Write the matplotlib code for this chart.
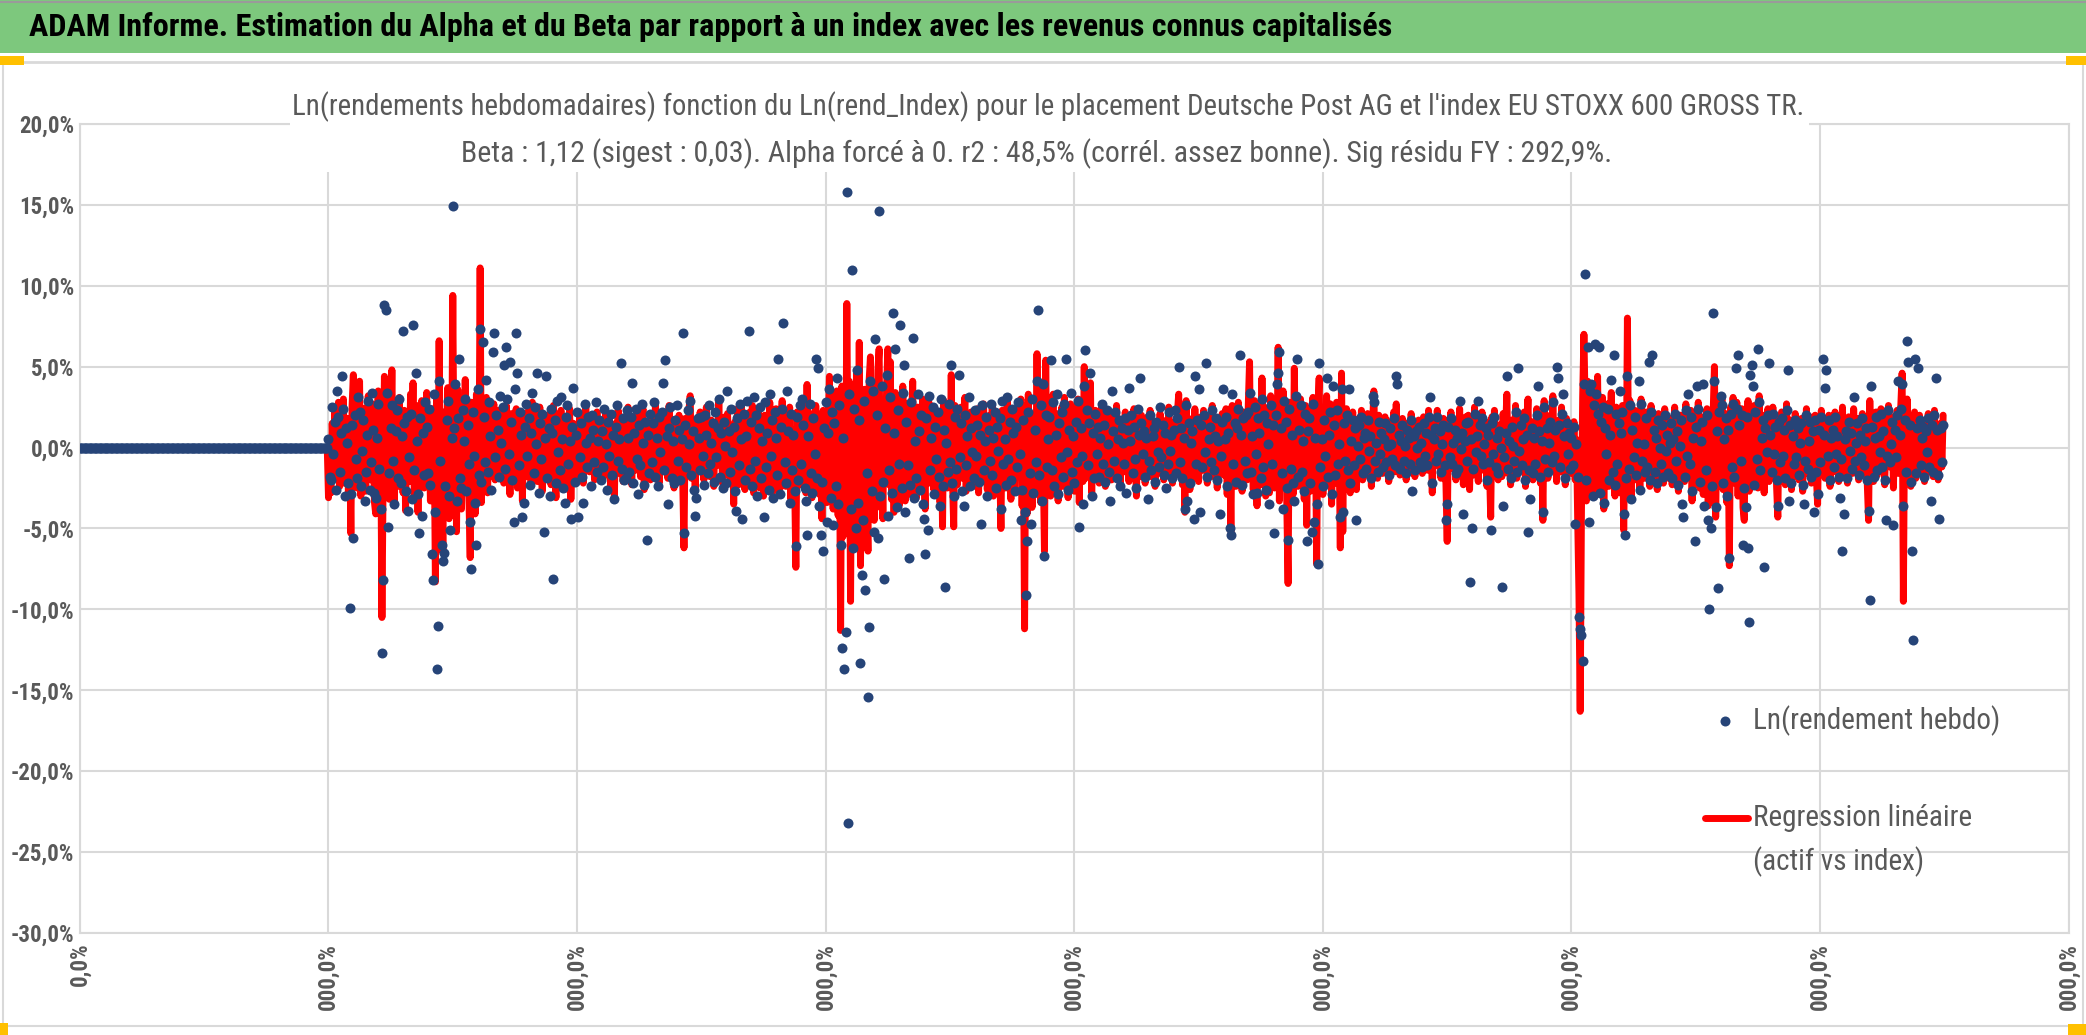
import numpy as np
import matplotlib
matplotlib.use("Agg")
import matplotlib.pyplot as plt
from matplotlib import font_manager
from matplotlib.patches import Rectangle
from matplotlib.lines import Line2D
from matplotlib.ticker import FuncFormatter

installed = {f.name for f in font_manager.fontManager.ttflist}
narrow = next((n for n in ['Liberation Sans Narrow', 'Roboto Condensed',
                           'Open Sans Condensed', 'DejaVu Sans Condensed']
               if n in installed), 'DejaVu Sans')
plt.rcParams['font.family'] = [narrow, 'DejaVu Sans']
plt.rcParams['font.stretch'] = 'condensed'

# weekly log returns in %, weeks 0..199 are empty (0), data starts at week 200
n_flat = 200

# regression line (beta x index), weeks 200..1499
regression = [
    -3.1, -1.2, -2.8, 1.5, -0.8, 2.2, -1.9, 0.6, 2.8, -2.4, 1.1, -0.5, 3.0, -2.2, 0.9, 1.8, -2.9, 0.4, -5.3, 2.6,
    4.5, -1.6, 0.8, -2.5, 1.9, 4.1, -3.0, 0.2, 2.4, -1.1, -2.7, 1.6, 3.2, -0.9, -2.0, 2.7, 0.5, -3.4, -4.1, 1.3,
    3.5, -2.2, 0.7, -10.5, -1.5, 4.4, -2.6, 1.2, 2.9, -3.2, 0.3, 4.8, -1.8, -3.6, 2.0, 0.6, -2.4, 3.1, -0.7, 1.7,
    -2.8, 2.3, -3.9, 0.9, 1.4, -2.1, 3.3, -1.0, 4.0, -3.0, 0.4, 2.6, -4.0, 1.1, -1.7, 2.9, -0.3, -2.5, 1.8, 3.4,
    -2.0, 0.7, -3.3, 2.4, -1.4, 1.0, -8.3, 3.0, -4.6, 6.6, -2.7, 1.5, -6.5, 2.2, -3.6, 0.8, 3.7, -4.4, 1.9, -2.3,
    9.4, -1.8, 2.1, -5.2, 3.6, -0.6, 2.7, -3.8, 1.3, -2.2, 4.2, -1.1, 0.5, -3.1, -6.8, 2.8, 1.0, -2.6, -4.1, 3.3,
    1.6, -2.4, 11.1, -3.4, 2.5, 0.9, -1.9, 3.1, -2.8, 1.4, 2.0, -1.3, 0.6, 2.7, -2.0, 1.2, -0.4, 2.3, -1.6, 0.9,
    1.8, -2.2, 0.4, 2.6, -1.5, 1.1, -2.9, 2.1, 0.3, -1.7, 1.5, 2.4, -2.5, 0.8, -0.9, 1.9, -3.3, 1.3, 0.6, -1.8,
    2.2, -0.7, 1.0, -2.4, 2.8, 0.2, -1.3, 1.7, -2.1, 0.9, 2.5, -1.0, -2.7, 1.4, 0.5, -1.6, 2.0, -0.8, 1.2, -2.3,
    0.7, 2.6, -1.4, -3.1, 1.8, 0.4, -2.0, 2.3, -0.5, 1.1, -2.6, 1.6, 0.8, -1.2, 2.4, -3.2, 0.9, 1.5, -1.9, 0.3,
    1.3, -1.7, 2.0, -0.6, 1.1, -2.2, 0.5, 2.6, -1.0, 0.8, -1.5, 1.9, -0.3, 1.4, -2.0, 0.6, 2.2, -1.2, 0.9, -0.7,
    1.6, -1.9, 0.4, 2.1, -1.3, 0.7, 1.8, -2.4, 0.2, 1.0, -3.1, 1.5, -0.8, 2.3, -1.6, 0.5, 1.2, -2.1, 1.9, -0.4,
    0.9, 2.5, -1.1, 0.3, -2.3, 1.7, 0.6, -1.4, 2.0, -0.9, 1.3, -1.8, 0.8, 2.4, -2.6, 0.4, 1.1, -1.0, 1.6, -2.0,
    0.7, 1.9, -1.5, 2.7, -0.6, 1.0, -2.2, 0.5, 1.4, -1.2, 2.1, -0.4, 0.9, -1.9, 2.6, 0.2, -1.3, 1.7, -2.5, 1.2,
    0.6, -1.6, 2.0, -0.8, 1.5, -2.1, -6.2, 1.8, 0.3, -1.4, 2.3, 3.2, -1.9, 0.8, 1.1, -2.7, 0.4, 1.6, -1.0, 2.2,
    -0.5, 1.3, -2.0, 0.9, 2.5, -1.3, 0.6, -1.8, 1.7, 0.2, -2.4, 1.4, 0.8, -1.1, 2.8, -0.7, 1.0, -2.2, 0.5, 1.9,
    -1.5, 2.1, 0.3, -1.9, 1.2, 0.7, -3.5, 1.6, -0.4, 2.4, -2.3, 1.1, 2.7, -1.8, 0.5, -2.6, 1.9, 0.8, -2.0, 2.2,
    -1.2, 2.6, -2.8, 0.6, 1.8, -1.5, 2.3, -2.5, 0.9, 1.4, -3.0, 2.0, -0.7, 1.3, -2.2, 2.8, -1.1, 0.4, -2.7, 1.7,
    2.4, -1.9, 0.8, -2.6, 1.5, 2.9, -1.3, 0.2, -2.4, 1.9, -0.8, 2.5, -3.2, 1.1, 0.6, -2.0, -7.4, 2.2, -1.7, 1.0,
    -2.3, 1.6, 2.7, -0.9, -2.8, 3.9, -1.4, 0.7, 2.1, -3.1, 1.3, -1.8, 2.6, -0.5, 1.8, -2.9, 0.9, -4.4, 2.3, -1.6,
    2.0, -3.4, 1.2, 4.4, -2.5, 0.8, -3.8, 2.9, -1.6, 3.5, -4.2, 1.7, -11.3, 3.8, -5.5, 2.4, -3.9, 8.9, -2.1, 4.1,
    -9.5, 3.2, -4.8, 1.5, -3.0, 4.6, -6.0, 6.5, -7.3, 2.7, -4.1, 3.6, 0.9, -2.8, -6.4, 4.2, 5.6, -3.5, 1.8, -4.5,
    3.9, -2.6, 4.8, 6.1, -3.7, 1.4, -4.4, 2.9, -1.5, 3.7, 6.1, -2.3, 5.3, -3.2, 1.0, -4.0, 3.4, -1.8, 2.6, -3.6,
    1.9, -2.4, 3.8, 0.6, -3.3, 2.7, -1.2, 2.2, -2.9, 1.4, 4.1, -2.0, 0.8, -3.1, 2.5, -0.9, 1.7, -2.7, 3.0, -1.5,
    -3.8, 2.3, -1.0, 2.8, -2.2, 0.7, 1.9, -2.6, 2.4, -1.3, 0.5, 2.1, -3.4, 1.6, -4.9, 2.9, -1.1, 0.9, -2.5, 1.8,
    -1.6, 4.5, -2.0, -4.9, 2.6, 0.4, -2.3, 1.7, -0.8, 2.5, -1.9, 1.2, 3.1, -2.7, 0.6, 1.8, -1.4, 2.2, -0.6, -2.4,
    1.5, -1.0, 2.4, -2.8, 0.9, 1.6, -2.1, 2.7, -0.5, 1.3, -2.6, 0.8, 2.0, -1.5, 2.6, -3.0, 1.1, 0.4, -2.2, 1.9,
    -1.2, -5.0, 2.3, -0.7, 1.8, -2.5, 2.9, -1.8, 0.6, -3.2, 2.1, 1.0, -2.7, 1.5, -1.6, 2.4, 0.5, 3.0, -3.6, 1.2,
    -11.2, 2.6, -4.1, 3.3, -2.4, 1.7, -3.7, 2.0, 0.8, -2.9, 5.8, -1.5, 2.4, -3.4, 3.6, -0.9, -6.4, 5.4, -2.3, 1.6,
    2.8, -3.0, 1.2, 3.3, -2.6, 0.7, 2.1, -3.3, 1.5, -1.1, 2.5, -2.4, 3.1, -0.8, 1.9, -3.1, 0.6, 2.7, -1.8, 1.0,
    -2.7, 2.2, -1.4, 3.0, -3.4, 1.3, 0.5, -2.1, 5.0, -1.9, 2.6, -0.7, 1.8, 4.0, -2.8, 1.1, -1.6, 2.3, -0.4, 1.7,
    -2.2, 1.0, 2.5, -1.7, 0.6, -2.4, 1.9, 0.3, -1.3, 2.1, -2.0, 1.4, 0.8, -1.9, 2.6, -0.6, 1.2, -2.3, 1.7, 0.4,
    -1.5, 2.2, -0.9, 1.3, -2.1, 0.7, 1.8, -1.2, 2.4, -0.5, -3.0, 1.6, 0.9, -1.8, 2.0, -0.3, 1.4, -2.2, 0.6, 1.9,
    -1.1, 2.3, -1.8, 0.5, 1.5, -2.4, 1.0, 0.2, -1.6, 2.1, -0.8, 1.7, -2.0, 0.9, 1.3, -1.4, 2.5, -0.6, 1.1, -2.2,
    0.8, 1.6, -1.3, 2.2, 3.3, -0.7, 1.4, -2.3, 0.5, -4.0, 2.9, -1.0, 1.8, -2.6, 0.4, 1.2, -1.9, 2.4, -0.8, 1.5,
    -2.1, 0.6, 1.9, -1.4, 2.3, -0.5, 1.0, -2.2, 0.7, 1.7, -1.1, 2.6, -1.8, 0.3, 1.4, -2.5, 0.9, 1.8, -0.6, 2.1,
    -1.7, 0.8, 2.4, -2.9, 1.2, 0.5, -5.2, 2.6, -1.3, 1.9, -2.4, 0.7, 2.8, -1.6, 1.1, -2.7, 2.2, -0.4, 1.5, -2.0,
    2.7, 5.3, -1.8, 1.0, -2.6, 2.9, -0.7, -3.6, 2.1, 0.4, -2.3, 4.3, -1.5, 2.5, -3.0, 1.3, 0.6, -2.8, 3.2, -1.2,
    1.8, -2.5, 2.4, -1.0, 6.2, -3.3, 1.6, -2.1, 3.5, -0.8, 2.0, -3.7, -8.4, 2.8, -1.7, 1.2, -2.9, 4.9, -0.6, 2.3,
    -2.4, 1.5, 3.0, -1.9, 0.7, -3.2, 2.6, -4.8, 1.4, 2.2, -2.7, 0.9, 3.1, -2.0, 1.0, -7.2, 2.5, 4.3, -1.6, 0.8,
    -2.9, 2.1, -0.8, 3.2, -2.3, 1.1, 2.7, -3.5, 0.6, 1.9, -2.2, 2.8, -1.4, 0.5, -6.2, 4.6, -5.2, 2.0, -1.1, 2.4,
    -1.8, 1.3, -2.8, 0.7, 2.2, -1.5, 1.6, -2.6, 0.4, 1.8, -1.0, 2.3, -2.0, 0.9, 1.2, -1.7, 2.1, -0.5, 1.0, -2.4,
    1.4, 3.5, -1.2, 0.6, -1.9, 2.0, -0.7, 1.3, -1.6, 0.8, 1.9, -1.3, 0.3, -2.1, 1.6, 0.5, -1.0, 2.2, -1.5, 2.7,
    -0.9, 1.2, -1.7, 0.7, 1.8, -1.1, 0.4, -2.0, 1.5, 0.9, -1.3, 2.1, -0.6, 1.0, -1.8, 1.4, -0.3, 1.7, -1.2, 0.6,
    -1.6, 1.9, -0.8, 1.3, -1.4, 2.3, -0.5, 1.1, -2.8, 0.8, 1.6, -1.1, 2.3, -0.7, 1.4, -1.9, 0.5, 1.8, -1.5, -2.2,
    -5.8, 1.7, -0.9, 2.2, -1.3, 0.6, 1.5, -2.0, 0.9, -1.6, 2.4, -0.4, 1.2, -2.3, 0.7, 1.9, -1.1, 2.0, -2.6, 0.8,
    1.3, -1.7, 2.5, -0.6, 1.0, -2.1, 1.8, -0.8, 2.2, -1.4, 0.5, 1.6, -2.4, 1.1, -1.2, -4.3, 1.9, -0.7, 2.3, -1.5,
    0.9, -2.0, 1.4, 0.3, -1.8, 2.1, -0.9, 1.2, 3.3, -1.6, 0.7, -2.3, 1.7, 0.4, -1.1, 2.6, -1.9, 1.0, -0.5, 1.8,
    -1.4, 0.8, 2.2, -2.4, 1.1, 3.0, -1.7, 0.5, 1.6, -2.0, 0.9, -1.3, 2.4, -0.6, 1.3, -2.2, 0.7, -4.5, 2.9, -1.0,
    1.5, -1.9, 0.6, 2.0, -1.2, 3.2, -0.8, 1.4, -2.1, 0.9, 1.7, -1.5, 2.5, -0.4, 1.0, -2.3, 1.8, -0.7, 1.2, -1.6,
    0.9, -1.4, 1.6, -2.0, 0.5, -4.5, -9.0, -16.3, -4.0, 3.1, 7.0, 2.5, -3.3, 4.1, -2.5, 2.9, -1.7, -3.0, 3.6, -2.2,
    1.8, 4.4, -2.6, 2.0, -1.2, 3.1, -3.8, 1.5, -0.6, 2.7, -2.4, 1.1, 3.4, -1.8, 0.7, -3.0, 2.5, -1.4, 1.9, -2.8,
    1.2, 2.6, -5.1, 0.8, -2.3, 8.0, -1.6, 2.9, -3.2, 1.4, -0.9, 2.3, -2.0, 0.6, 1.8, -2.7, 3.0, -1.1, 0.5, -1.9,
    2.2, -1.5, 1.0, -2.4, 2.6, -0.7, 1.4, -1.8, 0.9, -2.6, 2.1, 0.3, -1.3, 1.7, -2.2, 2.4, -0.5, 1.1, -1.9, 0.6,
    1.8, -2.3, 0.8, 2.5, -1.1, 1.3, -2.7, 0.4, 2.0, -1.6, 1.2, -2.1, 2.7, -0.8, 1.5, -1.3, 2.3, -3.3, 0.9, -2.0,
    1.6, -1.2, 2.8, -2.5, 0.7, 1.9, -2.9, 1.1, -1.7, 2.4, -3.6, 0.9, 1.5, -2.8, 2.2, 5.0, -4.3, 1.3, -2.4, 2.6,
    -1.9, 3.0, -2.6, 0.8, 2.1, -3.4, 1.4, -7.3, 2.5, -1.5, 3.1, -2.2, 0.6, 2.8, -3.0, 1.7, -1.1, 2.4, -3.7, -4.5,
    2.3, -1.4, 2.9, -2.7, 1.2, 0.5, -2.3, 2.6, -1.0, 1.8, -2.5, 3.2, -1.7, 0.9, 2.0, -2.8, 1.5, -0.6, 2.4, -2.1,
    1.1, -1.8, 2.5, -0.7, 1.6, -2.4, -4.3, 1.9, -1.2, 2.2, -0.8, 1.4, -2.3, 2.7, -1.5, 0.8, 1.7, -2.6, 1.0, -1.3,
    2.1, -0.9, 1.5, -2.0, 0.6, 1.8, -2.7, 1.2, -1.1, 2.4, -1.6, 0.7, 1.9, -2.2, 1.3, -0.5, 2.0, -1.8, -3.5, 1.4,
    -1.2, 2.3, -0.6, 1.1, -1.9, 1.7, -0.8, 2.0, -2.4, 0.9, 1.4, -1.5, 2.2, -0.7, 1.0, -2.1, 1.6, -1.0, 2.5, -1.7,
    0.8, 1.3, -2.2, 1.9, -0.5, 1.2, -1.6, 2.4, -1.1, 0.6, 1.8, -2.0, 1.1, -0.9, 2.1, -1.4, 0.7, 1.5, -2.3, -4.5,
    2.9, -1.3, 1.6, -2.1, 0.9, 2.2, -1.7, 1.0, -0.6, 2.4, -1.5, 1.3, -2.3, 1.8, -0.8, 2.6, -1.2, 0.5, 1.9, -2.5,
    1.4, -0.9, 2.3, -1.6, 1.1, 2.7, 4.6, -9.5, 2.0, -1.8, 3.0, -1.0, 1.7, -2.4, 1.2, -0.7, 2.2, -1.9, 1.5, -1.1,
    2.0, -1.4, 0.9, 1.6, -2.1, 1.3, -0.6, 2.1, -1.5, 1.0, 1.7, -1.8, 2.3, -1.0, 1.4, -2.0, 0.8, 1.5, -1.2, 2.0,
]

# Ln(rendement hebdo) of the stock, weeks 200..1499
weekly = [
    0.5, -1.8, -2.0, 2.5, -0.4, 1.6, -2.6, 3.5, 1.9, -1.5, 0.9, 4.4, 2.4, -3.0, 1.2, 0.3, -2.2, -9.9, -2.9, 1.4,
    -5.6, 2.0, -0.7, -1.9, 3.1, 2.2, -2.4, -0.2, 1.7, -3.3, -1.5, 0.8, 2.9, -2.6, -0.9, 3.4, 1.1, -2.8, -3.1, 0.6,
    2.7, -1.3, -3.8, -12.7, -8.2, 8.8, 8.5, 3.4, -4.9, -1.6, 1.2, 2.6, -0.8, -3.5, 1.0, 2.3, -1.9, 3.0, -2.2, 0.7,
    7.2, 1.5, -2.7, 1.9, -3.9, -0.6, 2.1, -3.2, 7.6, -1.4, 4.6, 0.4, -2.9, -5.3, 1.8, -4.2, 0.9, -1.7, 2.8, 1.3,
    -1.6, 2.4, -2.3, -6.6, -8.2, 3.3, -4.0, -13.7, -11.0, 4.1, -0.8, -6.0, -7.0, -6.5, -2.4, 1.7, 2.9, -3.0, -5.1, 0.6,
    14.9, 1.2, 3.9, -3.3, 1.8, 5.5, -1.9, -2.5, 2.3, 0.4, 3.0, -2.7, 1.4, -1.0, -4.6, -7.5, 2.2, -0.5, -3.4, -6.0,
    3.6, -1.7, 7.3, -2.1, 6.5, 1.9, -0.9, 4.2, -1.5, 2.8, 0.7, -2.6, 5.9, 7.1, -0.6, 2.0, 1.1, -1.8, 3.2, 0.3,
    2.5, 5.1, -1.3, 6.2, 3.0, -0.4, 5.3, 1.6, -2.0, -4.6, 3.6, 7.1, 4.6, -1.1, 2.2, 0.8, -4.3, -3.4, 1.3, 2.7,
    -0.5, 1.8, -2.3, 0.9, 3.4, -1.6, 2.5, 0.2, 4.6, -2.8, 1.5, -0.7, 2.1, -5.2, 0.6, 4.4, -1.9, 1.2, -3.0, 2.4,
    0.9, -8.1, 1.7, -2.2, 2.9, -0.3, -1.4, 3.1, 0.5, -2.5, -3.4, 1.9, 2.6, -1.0, 0.4, -4.4, 1.3, 3.7, -2.1, 0.8,
    2.2, -4.3, -0.6, 1.5, -1.8, -3.4, 2.7, 0.3, -1.2, 1.9, 0.6, -2.4, 2.0, 1.1, -0.9, 2.8, -1.5, 0.4, 1.7, -2.0,
    1.0, -1.2, 2.4, 0.2, -2.6, 1.6, -0.5, 2.1, -1.7, 0.8, -3.2, 1.3, 2.6, -0.8, 0.5, 5.2, -1.3, 1.8, -2.0, -1.9,
    2.3, 0.6, -1.5, 1.9, 4.0, -2.2, 0.9, 2.4, -0.7, -2.9, 1.4, -1.1, 2.7, 0.3, -2.3, 1.6, -5.7, 0.8, -1.6, 2.1,
    -0.9, 1.5, 2.8, -1.8, 0.6, -2.4, 1.9, -0.3, 2.2, 4.0, -1.4, 5.4, 0.7, -3.5, 1.2, 2.5, -1.9, 0.4, -2.2, 1.7,
    2.6, -0.8, 1.1, -2.0, 0.5, 7.1, -5.3, 1.4, -1.2, 2.3, 0.2, 2.9, -1.7, 1.0, -2.6, -4.2, -3.1, 1.8, 0.6, -1.4,
    1.9, -0.5, -2.3, 2.0, 0.8, -1.6, 2.6, -1.0, 0.3, 1.5, -2.1, 2.2, -0.6, 1.2, 3.0, -1.8, 0.9, -2.5, 1.6, 0.1,
    -2.2, 3.5, 1.0, -1.5, 2.4, -0.3, 1.3, -2.7, -3.9, 1.8, -1.1, 2.7, 0.5, -4.4, 2.1, -2.0, 0.7, 2.9, 7.2, -1.3,
    1.6, -2.4, 3.1, -0.8, 2.0, -3.0, 1.2, 2.5, -1.9, 0.4, -4.3, 2.8, -1.2, 0.9, -2.6, 3.3, -0.5, 1.7, -3.1, 2.2,
    0.6, -1.7, 5.5, -2.9, 1.3, 2.4, 7.7, -0.9, -2.2, 3.5, 1.0, -3.4, 2.1, -1.4, 0.8, -2.7, -6.1, 1.9, -2.0, 2.6,
    -1.0, 3.0, 1.4, -2.5, -3.3, -5.4, 0.7, 2.7, -1.6, -2.8, 1.8, -0.4, 5.5, -1.9, 4.9, -3.6, -5.4, -2.1, -6.4, 1.2,
    2.8, -4.6, 0.9, 3.6, -3.1, 2.2, -4.8, 1.5, -2.4, 4.3, -3.5, 2.6, -6.0, -12.4, 0.6, -13.7, -11.4, 15.8, -23.2, 3.3,
    -3.8, 11.0, -6.2, 2.4, -5.0, 4.8, -3.4, 1.7, -13.3, -7.9, -4.5, 2.9, -8.8, -1.6, -15.4, -11.1, 4.1, -2.7, 3.5, -5.2,
    6.7, 2.0, -5.6, 14.6, -3.0, 3.8, -2.1, -8.1, 1.2, 4.5, -4.2, -1.4, 3.1, -2.8, 8.3, 0.9, 6.1, -3.7, 2.3, -1.0,
    7.6, -2.5, 3.4, 5.1, -4.0, 1.6, -1.1, -6.8, -2.3, 2.8, 6.8, -3.1, 0.4, -1.9, 3.3, 1.0, -2.6, 2.0, -3.5, -4.4,
    -6.6, 1.8, -5.1, 3.2, -1.4, 0.6, 2.5, -2.9, 1.3, -0.7, 2.2, -1.8, -3.6, 3.0, -2.4, 1.1, -8.6, 0.3, -1.5, 2.7,
    -0.9, 5.1, -2.2, -3.0, 1.9, -1.3, 2.4, 4.5, -0.6, 1.5, -2.7, -3.6, 2.0, -1.1, 0.7, 3.1, -2.4, 1.2, -0.3, -1.9,
    2.3, -0.5, 1.4, -2.1, 0.8, -4.7, 2.6, -1.4, 0.4, 1.9, -3.0, 1.1, -0.8, 2.7, -1.7, 0.6, 2.2, -2.5, 1.3, -0.2,
    1.8, -3.8, 2.9, -1.0, 0.5, -2.3, 3.1, -0.7, 1.6, -2.0, 2.4, 0.9, -2.7, 1.3, -1.2, 2.8, -0.4, -4.5, -2.6, 1.7,
    -4.0, -9.1, -5.8, 2.2, -1.6, -4.7, 3.0, -2.8, 1.1, -0.9, 4.1, 8.5, -1.7, 2.6, -3.3, 3.9, -6.7, 2.0, -1.2, 0.5,
    1.9, 5.4, -1.4, 2.8, -2.4, 0.8, 3.3, -2.9, 1.5, -0.6, 2.2, -1.8, 2.7, 5.5, -0.3, -2.6, 1.1, 3.4, -1.5, 0.7,
    -2.2, 1.6, -0.9, 2.9, -4.9, 1.2, -0.5, -3.5, 3.8, 6.0, 2.3, -1.1, 1.5, 4.6, -3.0, 0.9, -1.9, 2.1, -0.4, 1.3,
    -1.8, 0.6, 2.7, -1.0, 1.4, -2.1, 2.3, 0.2, -1.5, -3.3, 3.5, 1.0, -0.8, 2.2, -1.9, 0.5, 1.7, -2.4, 1.2, 0.3,
    -1.0, 1.8, -2.8, 1.1, 3.7, 0.4, 2.0, -1.6, 1.3, -0.7, -2.5, 2.4, 0.8, 4.3, 1.5, -0.4, 1.0, -1.8, 0.6, -3.2,
    -0.8, 2.0, -1.4, 0.7, 1.2, -2.1, 1.6, -0.3, -1.2, 2.5, -0.6, 1.4, -1.7, 0.9, -2.5, -1.0, 2.2, -0.2, 0.8, -1.9,
    1.1, 2.3, -1.6, 1.8, 5.0, -0.9, 1.2, -1.9, 0.6, -3.8, 2.6, -3.3, 1.5, -2.2, 0.3, 1.0, -4.4, 4.4, -1.0, 1.7,
    3.6, -4.0, 1.4, -1.2, 2.0, -0.3, 5.2, -1.8, 0.5, 1.3, -0.9, 2.3, -1.4, 0.7, 1.8, -2.0, 0.4, -4.1, -0.5, 1.6,
    3.6, 0.5, 1.9, -2.4, 0.9, -5.0, -5.4, 3.3, -1.0, 1.5, -2.1, 1.2, 2.4, 5.7, 0.8, -2.3, 1.8, -0.8, 2.0, -1.6,
    2.2, 3.4, -1.5, 0.7, -2.9, 2.5, -0.4, -2.8, 1.8, 0.9, -1.9, 3.0, -1.2, 2.0, -2.6, 1.5, 0.2, -3.5, 2.6, -1.0,
    1.4, -5.3, 2.0, 3.9, 4.6, 5.9, 1.2, -1.6, -3.8, 2.9, 1.6, -2.5, -5.7, 2.4, -1.3, 0.8, -2.2, -3.3, 3.2, 5.5,
    -1.8, 1.1, 2.6, -1.5, 0.4, -2.7, 2.1, -5.8, 1.0, 1.8, -2.2, -5.2, 2.7, -4.6, 0.6, -3.5, -7.2, 5.2, -1.2, 0.5,
    -2.4, 1.7, -0.5, 4.3, -1.8, 0.8, 2.2, -2.9, 3.8, 1.4, -1.7, 2.3, -1.0, 0.2, -4.3, 3.6, -4.0, 1.5, -0.8, 2.0,
    -1.4, 3.6, -2.2, 0.4, 1.7, -1.1, 1.2, -4.5, 0.1, 1.4, -0.7, 1.9, -1.6, 0.6, 0.9, -1.3, 1.7, -0.2, 0.7, -1.9,
    3.2, 2.8, -0.8, 0.3, -1.5, 1.6, -0.4, 0.9, -1.2, 0.5, 1.5, -0.9, 0.1, -1.7, 1.2, 0.2, -0.7, 1.8, -1.1, 4.4,
    3.9, 0.8, -1.3, 0.4, 1.4, -0.8, 0.1, -1.6, 1.1, 0.6, -1.0, 1.7, -2.7, 0.7, -1.4, 1.0, 0.0, 1.3, -0.9, 0.3,
    -1.2, 1.5, -0.5, 0.9, -1.1, 1.9, 3.1, 0.8, -2.2, 0.5, 1.2, -0.8, 1.9, -0.4, 1.0, -1.5, 0.2, 1.4, -1.1, -4.5,
    -3.5, 1.3, -0.6, 1.8, -1.0, 0.3, 1.1, -1.6, 0.6, -1.3, 2.9, -0.1, 0.9, -4.1, 0.4, 1.5, -0.8, 1.6, -8.3, 0.5,
    -5.0, -1.3, 2.1, -0.3, 0.7, 2.9, 1.4, -0.5, 1.8, -1.0, 0.2, 1.2, -2.0, 0.8, -0.9, -5.1, 1.5, -0.4, 1.9, -1.2,
    0.6, -1.6, 1.0, 0.0, -8.6, -3.6, -0.6, 0.9, 4.4, -1.3, 0.4, -1.9, 1.3, 0.1, -0.8, 2.2, -1.5, 4.9, -0.2, 1.4,
    -1.1, 0.5, 1.8, -2.0, 0.8, -5.2, -1.4, -3.2, 1.2, -1.6, 0.6, -1.0, 2.0, 3.8, 1.0, -1.8, 0.4, -4.0, 2.5, -0.7,
    1.2, -1.5, 0.3, 1.6, -0.9, 2.8, -0.5, 1.1, 5.0, 4.3, 1.4, -1.2, 2.1, 3.3, 0.7, -1.9, 1.5, -0.4, 0.9, -1.3,
    0.6, -1.1, 1.3, -4.7, 0.2, -1.8, -10.5, -11.2, -11.6, -13.2, 3.9, 10.7, -2.0, 6.2, -4.6, 3.5, 3.9, -3.0, 2.6, 6.4,
    3.3, 2.1, 6.2, -2.8, 1.6, 2.5, -3.4, 1.2, -0.4, 2.4, -2.0, 0.8, 4.2, -1.5, 5.7, -2.3, 2.1, -1.0, 1.5, 3.5,
    0.9, 2.2, -4.1, -5.4, -1.9, 4.4, -1.3, 2.6, -3.2, 1.1, -0.6, 1.9, -1.7, 0.3, 4.1, -2.6, 2.7, -0.8, 0.2, -1.5,
    1.8, -1.2, 5.3, -2.0, 2.2, 5.7, 1.1, -1.5, 0.6, -2.2, 1.7, 0.0, -1.0, 1.4, -1.8, 2.0, -0.2, 0.8, -1.6, 0.3,
    1.5, -1.9, 0.5, 2.1, -0.8, 1.0, -2.3, 0.1, 1.7, -3.5, -4.3, -1.8, 2.3, -0.5, 3.3, -1.0, 1.9, -2.7, 0.6, -5.8,
    1.3, 3.8, 2.4, -2.1, 0.4, 1.6, 3.9, -3.6, -1.4, 2.0, -4.5, -10.0, -5.0, -2.4, 8.3, 4.1, -3.7, 1.0, -8.7, 2.2,
    3.2, 2.6, -2.2, 0.5, 1.8, -3.0, 1.1, -6.8, 2.1, -1.2, 2.7, -1.8, 4.9, 2.4, 5.7, 1.4, -0.8, 2.0, -6.0, -2.5,
    -3.7, 1.9, -6.2, -10.8, 4.5, 5.1, 3.8, -2.3, 2.2, -0.7, 6.1, 2.8, -1.4, 0.6, 1.7, -7.4, 1.2, -0.3, 2.0, 5.2,
    0.8, -1.5, 2.1, -0.4, 1.3, -2.0, -3.6, 1.6, -0.9, 1.8, -0.5, 1.1, -1.9, 2.3, 4.8, -3.3, 1.4, -2.2, 0.7, -1.0,
    1.7, -0.6, 1.2, -1.7, 0.3, 1.5, -2.3, -3.5, -0.8, 2.0, -1.3, 0.4, 1.6, -1.8, 1.0, -4.0, 1.7, -1.5, -2.9, 1.1,
    -0.9, 1.9, 5.5, 0.8, 3.7, 4.8, -0.5, 1.7, -2.0, 0.6, 1.1, -1.2, 1.9, -0.4, 0.7, -1.8, -3.1, -0.7, -6.4, -4.1,
    0.5, 1.0, -1.9, 1.6, -0.2, 0.9, -1.3, 3.1, -0.8, 0.3, 1.5, -1.7, 0.8, -0.6, 1.8, -1.1, 0.4, 1.2, -2.0, -3.9,
    -9.4, 3.8, 1.3, -1.8, 0.6, 1.9, -1.4, 0.7, -0.3, 2.1, -1.2, 1.0, -2.0, -4.5, -0.5, 2.3, -0.9, 0.2, 1.6, -4.8,
    1.1, -0.6, 2.0, 4.1, 0.8, 2.4, 3.9, -3.6, 1.7, -1.5, 6.6, 5.3, 1.4, -2.1, -6.4, -11.9, 5.5, -1.6, 1.2, 4.9,
    1.7, -1.1, 0.6, 1.3, -1.8, 1.0, -0.3, 1.8, -1.2, -3.3, 1.4, -1.5, 2.0, 4.3, 1.1, -1.7, -4.4, 1.2, -0.9, 1.4,
]

y_ticks = [20, 15, 10, 5, 0, -5, -10, -15, -20, -25, -30]
x_ticks = [0, 200, 400, 600, 800, 1000, 1200, 1400, 1600]
x_labels = ['0,0%'] + ['000,0%'] * 8

title = ("ADAM Informe. Estimation du Alpha et du Beta par rapport à un index "
         "avec les revenus connus capitalisés")
sub1 = ("Ln(rendements hebdomadaires) fonction du Ln(rend_Index) pour le placement "
        "Deutsche Post AG et l'index EU STOXX 600 GROSS TR.")
sub2 = ("Beta : 1,12 (sigest : 0,03). Alpha forcé à 0. r2 : 48,5% (corrél. assez bonne). "
        "Sig résidu FY : 292,9%.")

reg_all = np.concatenate([np.zeros(n_flat), regression])
dot_all = np.concatenate([np.zeros(n_flat), weekly])
x_reg = np.arange(len(reg_all))
x_dot = np.arange(len(dot_all))

grey_txt = '#595959'
grid_col = '#D9D9D9'
navy = '#264478'
dot_ms = 7.2
red_lw = 5.0

fig = plt.figure(figsize=(20.86, 10.35), dpi=100)
fig.patch.set_facecolor('white')
ax = fig.add_axes([0.0383, 0.0985, 0.9534, 0.7818])

ax.plot(x_reg, reg_all, color='#FF0000', lw=red_lw, solid_capstyle='round',
        solid_joinstyle='round', zorder=2)
ax.plot(x_dot, dot_all, ls='none', marker='o', ms=dot_ms, mew=0, color=navy, zorder=3)

ax.set_xlim(0, 1600)
ax.set_ylim(-30, 20)
ax.set_yticks(y_ticks)
ax.yaxis.set_major_formatter(FuncFormatter(lambda v, p: f"{v:.1f}%".replace('.', ',')))
ax.set_xticks(x_ticks)
ax.set_xticklabels(x_labels, rotation=90)
ax.grid(True, color=grid_col, lw=1.5, zorder=0)
ax.set_axisbelow(True)
for s in ax.spines.values():
    s.set_color(grid_col)
    s.set_linewidth(1.5)
ax.tick_params(length=0, labelsize=16.5, labelcolor=grey_txt, pad=4)
ax.tick_params(axis='x', pad=7)
for lab in ax.get_yticklabels() + ax.get_xticklabels():
    lab.set_fontweight('bold')

# green banner with the report title
fig.add_artist(Rectangle((0, 0.949), 1, 0.051, transform=fig.transFigure,
                         facecolor='#7DC87D', edgecolor='none', zorder=1))
fig.add_artist(Line2D([0, 1], [0.9985, 0.9985], transform=fig.transFigure,
                      color='#9A9A9A', lw=1.5))
fig.text(0.014, 0.974, title, fontsize=23.2, fontweight='bold', color='black',
         ha='left', va='center')

# chart frame and selection handles
fig.add_artist(Line2D([0, 1], [0.940, 0.940], transform=fig.transFigure,
                      color=grid_col, lw=2))
fig.add_artist(Line2D([0.0015, 0.0015], [0.009, 0.940], transform=fig.transFigure,
                      color=grid_col, lw=1.5))
fig.add_artist(Line2D([0.9985, 0.9985], [0.009, 0.940], transform=fig.transFigure,
                      color=grid_col, lw=1.5))
fig.add_artist(Line2D([0, 1], [0.009, 0.009], transform=fig.transFigure,
                      color=grid_col, lw=1.5))
for (hx, hy, hw, hh) in [(0, 0.937, 0.0115, 0.009), (0.9905, 0.937, 0.0095, 0.009),
                         (0, 0, 0.004, 0.012), (0.9915, 0, 0.0085, 0.011)]:
    fig.add_artist(Rectangle((hx, hy), hw, hh, transform=fig.transFigure,
                             facecolor='#FFC000', edgecolor='none', zorder=2))

# chart title box (hides the gridlines behind it)
fig.add_artist(Rectangle((0.139, 0.834), 0.728, 0.086, transform=fig.transFigure,
                         facecolor='white', edgecolor='none', zorder=1))
fig.text(0.5026, 0.897, sub1, fontsize=20.8, color=grey_txt, ha='center', va='center')
fig.text(0.4968, 0.852, sub2, fontsize=21.5, color=grey_txt, ha='center', va='center')

# legend
fig.add_artist(Line2D([0.8269], [0.3037], transform=fig.transFigure, ls='none',
                      marker='o', ms=dot_ms, mew=0, color=navy))
fig.text(0.8404, 0.3037, 'Ln(rendement hebdo)', fontsize=21, color=grey_txt,
         ha='left', va='center')
fig.add_artist(Line2D([0.8174, 0.8378], [0.2098, 0.2098], transform=fig.transFigure,
                      color='#FF0000', lw=red_lw, solid_capstyle='round'))
fig.text(0.8404, 0.2098, 'Regression linéaire', fontsize=21, color=grey_txt,
         ha='left', va='center')
fig.text(0.8404, 0.1673, '(actif vs index)', fontsize=21, color=grey_txt,
         ha='left', va='center')

fig.savefig('out.png', dpi=100, facecolor='white')
